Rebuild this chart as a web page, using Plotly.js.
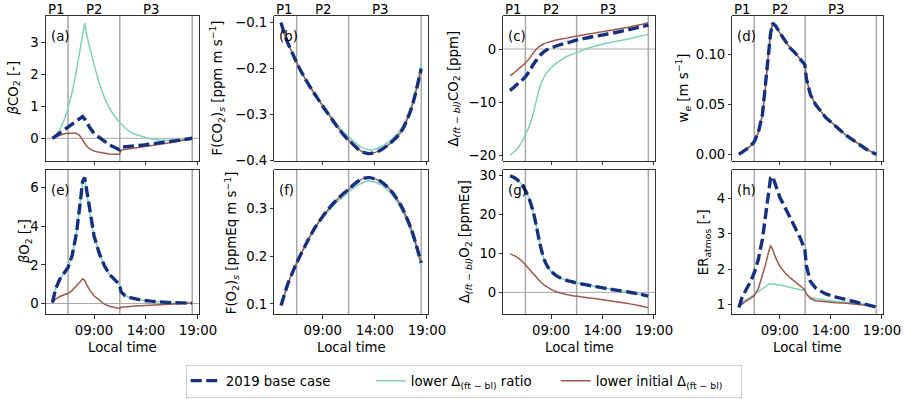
<!DOCTYPE html>
<html>
<head>
<meta charset="utf-8">
<script src="https://cdn.plot.ly/plotly-3.0.1.min.js"></script>
<style>html,body{margin:0;padding:0;background:#fff}#chart{width:904px;height:399px}</style>
</head>
<body>
<div id="chart"></div>
<script>
// ---- data (local time in hours) ----
const time = [5.0, 5.3, 5.7, 6.1, 6.5, 6.9, 7.3, 7.6, 7.9, 8.1, 8.3, 8.6, 9.0, 9.5, 10.0, 10.5, 11.0, 11.45, 11.6, 12.0, 12.5, 13.0, 13.5, 14.5, 15.5, 16.5, 17.5, 18.45];

const seriesNames = ['2019 base case', 'lower Δ<sub>(ft − bl)</sub> ratio', 'lower initial Δ<sub>(ft − bl)</sub>'];
const periodBounds = [6.5, 11.48, 18.45];
const periodLabels = ['P1', 'P2', 'P3'];
const xTickVals = [9, 14, 19];
const xTickText = ['09:00', '14:00', '19:00'];

const betaCO2_base  = [0, 0.07, 0.15, 0.24, 0.34, 0.44, 0.54, 0.61, 0.68, 0.6, 0.48, 0.33, 0.15, 0.02, -0.11, -0.21, -0.29, -0.36, -0.28, -0.26, -0.25, -0.23, -0.22, -0.18, -0.15, -0.11, -0.05, 0];
const betaCO2_ratio = [0, 0.08, 0.28, 0.55, 0.93, 1.45, 2.1, 2.65, 3.3, 3.6, 3.22, 2.82, 2.3, 1.72, 1.27, 0.93, 0.68, 0.5, 0.45, 0.32, 0.2, 0.12, 0.07, -0.02, -0.06, -0.07, -0.06, 0];
const betaCO2_init  = [0, 0.04, 0.1, 0.14, 0.16, 0.17, 0.16, 0.09, -0.06, -0.16, -0.25, -0.33, -0.4, -0.44, -0.47, -0.49, -0.5, -0.5, -0.37, -0.35, -0.33, -0.3, -0.28, -0.24, -0.19, -0.13, -0.06, 0];

const FCO2_base  = [-0.1, -0.123, -0.147, -0.167, -0.187, -0.205, -0.222, -0.233, -0.244, -0.251, -0.258, -0.268, -0.282, -0.298, -0.314, -0.33, -0.344, -0.355, -0.358, -0.367, -0.377, -0.383, -0.385, -0.378, -0.362, -0.338, -0.287, -0.2];
const FCO2_ratio = [-0.1, -0.123, -0.147, -0.167, -0.187, -0.205, -0.221, -0.232, -0.243, -0.25, -0.256, -0.266, -0.279, -0.295, -0.31, -0.325, -0.338, -0.348, -0.351, -0.359, -0.368, -0.374, -0.377, -0.371, -0.356, -0.332, -0.282, -0.192];
const FCO2_init  = FCO2_base;

const dCO2_base  = [-7.8, -7.3, -6.6, -5.95, -5.2, -4.1, -2.8, -2.0, -1.25, -0.85, -0.5, -0.12, 0.2, 0.57, 0.87, 1.13, 1.4, 1.67, 1.73, 1.9, 2.1, 2.3, 2.47, 2.82, 3.2, 3.62, 4.05, 4.5];
const dCO2_ratio = [-19.9, -19.5, -18.7, -17.6, -16.1, -14.3, -11.8, -9.3, -7.1, -6.1, -5.3, -4.35, -3.5, -2.65, -2.0, -1.4, -1.0, -0.7, -0.6, -0.3, 0.1, 0.4, 0.65, 1.12, 1.5, 1.9, 2.35, 2.75];
const dCO2_init  = [-5.0, -4.6, -3.95, -3.3, -2.6, -1.75, -0.65, 0.05, 0.55, 0.8, 1.0, 1.2, 1.42, 1.68, 1.88, 2.05, 2.25, 2.42, 2.46, 2.6, 2.77, 2.94, 3.1, 3.42, 3.76, 4.1, 4.5, 4.94];

const we_base  = [0.0, 0.002, 0.005, 0.008, 0.013, 0.022, 0.04, 0.068, 0.103, 0.122, 0.132, 0.129, 0.122, 0.114, 0.107, 0.102, 0.096, 0.09, 0.076, 0.06, 0.05, 0.043, 0.037, 0.028, 0.019, 0.012, 0.005, 0.0];
const we_ratio = we_base;
const we_init  = we_base;

const betaO2_base  = [0.05, 0.75, 1.25, 1.55, 1.87, 2.5, 3.6, 4.9, 6.3, 6.52, 5.8, 4.65, 3.5, 2.6, 1.95, 1.5, 1.2, 0.98, 0.6, 0.4, 0.3, 0.23, 0.18, 0.12, 0.07, 0.04, 0.03, 0.02];
const betaO2_ratio = betaO2_base;
const betaO2_init  = [0.05, 0.22, 0.36, 0.45, 0.53, 0.68, 0.88, 1.08, 1.28, 1.2, 0.98, 0.68, 0.4, 0.17, -0.03, -0.14, -0.21, -0.26, -0.2, -0.17, -0.15, -0.13, -0.12, -0.09, -0.06, -0.03, -0.01, 0.03];

const FO2_base  = [0.097, 0.118, 0.145, 0.166, 0.186, 0.204, 0.221, 0.234, 0.246, 0.254, 0.261, 0.271, 0.283, 0.297, 0.31, 0.321, 0.331, 0.339, 0.342, 0.35, 0.358, 0.363, 0.364, 0.357, 0.338, 0.306, 0.256, 0.186];
const FO2_ratio = [0.097, 0.118, 0.145, 0.166, 0.186, 0.204, 0.221, 0.234, 0.245, 0.253, 0.26, 0.269, 0.281, 0.294, 0.306, 0.316, 0.325, 0.333, 0.336, 0.343, 0.35, 0.355, 0.357, 0.35, 0.332, 0.3, 0.25, 0.18];
const FO2_init  = FO2_base;

const dO2_base  = [30.0, 29.7, 29.0, 27.9, 26.2, 23.8, 20.3, 16.6, 12.6, 10.5, 8.6, 6.9, 5.4, 4.3, 3.6, 3.1, 2.75, 2.45, 2.38, 2.15, 1.9, 1.65, 1.4, 0.95, 0.5, 0.1, -0.4, -0.95];
const dO2_ratio = dO2_base;
const dO2_init  = [9.9, 9.6, 9.0, 8.2, 7.1, 5.9, 4.7, 3.8, 2.9, 2.4, 1.95, 1.4, 0.75, 0.15, -0.25, -0.55, -0.8, -0.98, -1.03, -1.18, -1.36, -1.53, -1.7, -2.12, -2.5, -2.9, -3.4, -3.95];

const ER_base  = [0.92, 1.2, 1.42, 1.63, 1.9, 2.28, 2.85, 3.5, 4.2, 4.58, 4.62, 4.35, 4.03, 3.75, 3.46, 3.18, 2.88, 2.55, 2.1, 1.65, 1.47, 1.38, 1.3, 1.21, 1.14, 1.06, 0.99, 0.93];
const ER_ratio = [1.0, 1.07, 1.14, 1.21, 1.29, 1.38, 1.46, 1.52, 1.57, 1.59, 1.59, 1.57, 1.55, 1.52, 1.5, 1.46, 1.42, 1.39, 1.3, 1.2, 1.17, 1.14, 1.12, 1.09, 1.07, 1.04, 1.0, 0.95];
const ER_init  = [0.95, 1.02, 1.1, 1.17, 1.25, 1.45, 1.8, 2.13, 2.48, 2.67, 2.55, 2.32, 2.08, 1.9, 1.76, 1.64, 1.53, 1.42, 1.3, 1.17, 1.11, 1.09, 1.07, 1.05, 1.04, 1.01, 0.98, 0.95];

// ---- panel definitions ----
const panels = [
  {lab:'(a)', base:betaCO2_base, ratio:betaCO2_ratio, init:betaCO2_init, yr:[-0.71,3.82], tv:[0,1,2,3], fmt:'', zero:true, smooth:false,
   title:'<i>β</i>CO<sub>2</sub> [-]', tx:14},
  {lab:'(b)', base:FCO2_base, ratio:FCO2_ratio, init:FCO2_init, yr:[-0.401,-0.0855], tv:[-0.4,-0.3,-0.2,-0.1], fmt:'.1f', zero:false, smooth:true,
   title:'F(CO<sub>2</sub>)<sub><i>s</i></sub> [ppm m s<sup>−1</sup>]', tx:217},
  {lab:'(c)', base:dCO2_base, ratio:dCO2_ratio, init:dCO2_init, yr:[-21,6.2], tv:[-20,-10,0], fmt:'', zero:true, smooth:true,
   title:'Δ<sub><i>(ft − bl)</i></sub>CO<sub>2</sub> [ppm]', tx:454},
  {lab:'(d)', base:we_base, ratio:we_ratio, init:we_init, yr:[-0.0066,0.139], tv:[0,0.05,0.1], fmt:'.2f', zero:false, smooth:false,
   title:'w<sub><i>e</i></sub> [m s<sup>−1</sup>]', tx:683},
  {lab:'(e)', base:betaO2_base, ratio:betaO2_ratio, init:betaO2_init, yr:[-0.57,6.91], tv:[0,2,4,6], fmt:'', zero:true, smooth:false,
   title:'<i>β</i>O<sub>2</sub> [-]', tx:25},
  {lab:'(f)', base:FO2_base, ratio:FO2_ratio, init:FO2_init, yr:[0.078,0.38], tv:[0.1,0.2,0.3], fmt:'.1f', zero:false, smooth:true,
   title:'F(O<sub>2</sub>)<sub><i>s</i></sub> [ppmEq m s<sup>−1</sup>]', tx:231},
  {lab:'(g)', base:dO2_base, ratio:dO2_ratio, init:dO2_init, yr:[-5.7,31.5], tv:[0,10,20,30], fmt:'', zero:true, smooth:true,
   title:'Δ<sub><i>(ft − bl)</i></sub>O<sub>2</sub> [ppmEq]', tx:465},
  {lab:'(h)', base:ER_base, ratio:ER_ratio, init:ER_init, yr:[0.72,4.8], tv:[1,2,3,4], fmt:'', zero:false, smooth:false,
   title:'ER<sub>atmos</sub> [-]', tx:704}
];

const W = 904, H = 399;
const colPx = [[45.7,199],[274.3,428],[503.3,655],[732.3,883]];
const rowPx = [[16,161],[170,314.5]];
const C_BASE = '#15307f', C_RATIO = '#80d0bb', C_INIT = '#9c5a4d';
const FONT = {family:'DejaVu Sans, sans-serif', size:13.3, color:'#000'};

const traces = [], shapes = [], annotations = [];
const layout = {
  width: W, height: H, margin:{l:0,r:0,t:0,b:0},
  paper_bgcolor:'#fff', plot_bgcolor:'#fff', font: FONT,
  showlegend: true,
  legend:{orientation:'h', x:0.513, xanchor:'center', y:1-381/399, yanchor:'middle',
          bordercolor:'#cccccc', borderwidth:1, font:FONT, tracegroupgap:0, itemwidth:30,
          entrywidth:140, entrywidthmode:'pixels'},
  shapes, annotations
};

panels.forEach((p, i) => {
  const n = i + 1;
  const col = i % 4, row = Math.floor(i / 4);
  const xa = n === 1 ? 'x' : 'x' + n, ya = n === 1 ? 'y' : 'y' + n;
  const xk = n === 1 ? 'xaxis' : 'xaxis' + n, yk = n === 1 ? 'yaxis' : 'yaxis' + n;
  layout[xk] = {
    domain:[colPx[col][0]/W, colPx[col][1]/W], anchor: ya, range:[4.35, 19.1],
    tickvals: xTickVals, ticktext: xTickText, showticklabels: row === 1,
    ticks:'outside', ticklen:3.5, tickwidth:0.8, tickcolor:'#000',
    showline:true, mirror:true, linecolor:'#000', linewidth:0.8,
    showgrid:false, zeroline:false, tickfont: FONT
  };
  layout[yk] = {
    domain:[1-rowPx[row][1]/H, 1-rowPx[row][0]/H], anchor: xa, range: p.yr,
    tickvals: p.tv, tickformat: p.fmt,
    ticks:'outside', ticklen:3.5, tickwidth:0.8, tickcolor:'#000',
    showline:true, mirror:true, linecolor:'#000', linewidth:0.8,
    showgrid:false, zeroline:false, tickfont: FONT
  };
  const shape = p.smooth ? 'spline' : 'linear';
  const common = {x: time, xaxis: xa, yaxis: ya, mode:'lines', hoverinfo:'skip'};
  traces.push(Object.assign({}, common, {y:p.ratio, name:seriesNames[1], legendgroup:'r', legendrank:2, showlegend: i===0,
    line:{color:C_RATIO, width:1.5, shape, smoothing:0.8}}));
  traces.push(Object.assign({}, common, {y:p.init, name:seriesNames[2], legendgroup:'i', legendrank:3, showlegend: i===0,
    line:{color:C_INIT, width:1.5, shape, smoothing:0.8}}));
  traces.push(Object.assign({}, common, {y:p.base, name:seriesNames[0], legendgroup:'b', legendrank:1, showlegend: i===0,
    line:{color:C_BASE, width:3.4, dash:'11px,4.5px', shape, smoothing:0.8}}));

  periodBounds.forEach(b => shapes.push({type:'line', xref:xa, yref:ya+' domain', x0:b, x1:b, y0:0, y1:1,
    line:{color:'#a8a8a8', width:1.5}, layer:'below'}));
  if (p.zero) shapes.push({type:'line', xref:xa+' domain', yref:ya, x0:0, x1:1, y0:0, y1:0,
    line:{color:'#a8a8a8', width:1}, layer:'below'});

  annotations.push({text:p.lab, xref:xa+' domain', yref:ya+' domain', x:0.02, y:0.86, xanchor:'left', yanchor:'middle',
    showarrow:false, font:FONT});
  const yc = (rowPx[row][0] + rowPx[row][1]) / 2;
  annotations.push({text:p.title, xref:'paper', yref:'paper', x:p.tx/W, y:1-yc/H, xanchor:'center', yanchor:'middle',
    textangle:-90, showarrow:false, font:FONT});
  if (row === 1) {
    annotations.push({text:'Local time', xref:'paper', yref:'paper', x:(colPx[col][0]+colPx[col][1])/2/W, y:1-347/H,
      xanchor:'center', yanchor:'middle', showarrow:false, font:FONT});
  } else {
    const lx = [5.3, 9.0, 14.5];
    periodLabels.forEach((t, k) => annotations.push({text:t, xref:xa, yref:ya+' domain', x:lx[k], y:1, yshift:-3,
      xanchor:'center', yanchor:'bottom', showarrow:false, font:FONT}));
  }
});

Plotly.newPlot('chart', traces, layout, {staticPlot:true, displayModeBar:false});
</script>
</body>
</html>
